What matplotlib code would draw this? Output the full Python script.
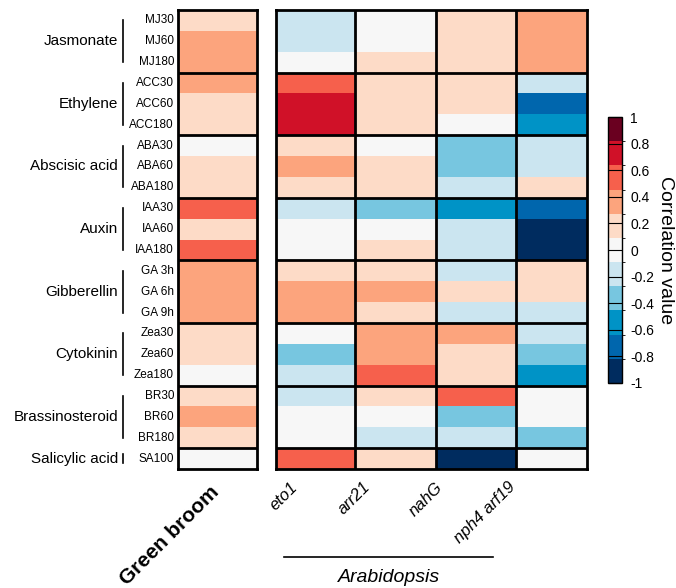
import matplotlib
matplotlib.use("Agg")
import matplotlib.pyplot as plt
import numpy as np
from matplotlib.colors import ListedColormap, BoundaryNorm
from matplotlib.transforms import blended_transform_factory

plt.rcParams["font.family"] = ["Liberation Sans", "DejaVu Sans"]

rows = ["MJ30", "MJ60", "MJ180", "ACC30", "ACC60", "ACC180",
        "ABA30", "ABA60", "ABA180", "IAA30", "IAA60", "IAA180",
        "GA 3h", "GA 6h", "GA 9h", "Zea30", "Zea60", "Zea180",
        "BR30", "BR60", "BR180", "SA100"]
groups = ["Jasmonate", "Ethylene", "Abscisic acid", "Auxin", "Gibberellin",
          "Cytokinin", "Brassinosteroid", "Salicylic acid"]
group_sizes = [3, 3, 3, 3, 3, 3, 3, 1]

green_broom = [0.2, 0.35, 0.35, 0.35, 0.2, 0.2, 0.0, 0.2, 0.2, 0.55, 0.2, 0.55,
               0.35, 0.35, 0.35, 0.2, 0.2, 0.0, 0.2, 0.35, 0.2, 0.0]
eto1 = [-0.2, -0.2, 0.0, 0.55, 0.7, 0.7, 0.2, 0.35, 0.2, -0.2, 0.0, 0.0,
        0.2, 0.35, 0.35, 0.0, -0.35, -0.2, -0.2, 0.0, 0.0, 0.55]
arr21 = [0.0, 0.0, 0.2, 0.2, 0.2, 0.2, 0.0, 0.2, 0.2, -0.35, 0.0, 0.2,
         0.2, 0.35, 0.2, 0.35, 0.35, 0.55, 0.2, 0.0, -0.2, 0.2]
nahG = [0.2, 0.2, 0.2, 0.2, 0.2, 0.0, -0.35, -0.35, -0.2, -0.55, -0.2, -0.2,
        -0.2, 0.2, -0.2, 0.35, 0.2, 0.2, 0.55, -0.35, -0.2, -0.9]
nph4_arf19 = [0.35, 0.35, 0.35, -0.2, -0.7, -0.55, -0.2, -0.2, 0.2, -0.7, -0.9, -0.9,
              0.2, 0.2, -0.2, -0.2, -0.35, -0.55, 0.0, 0.0, -0.35, 0.0]
arab_labels = ["eto1", "arr21", "nahG", "nph4 arf19"]
cbar_ticks = [-1, -0.8, -0.6, -0.4, -0.2, 0, 0.2, 0.4, 0.6, 0.8, 1]

palette = ["#002c5f", "#0066ad", "#0093c6", "#77c6e0", "#cbe5f0", "#f7f7f7",
           "#fddbc7", "#fca47d", "#f6604c", "#d01128", "#6a0020"]
cmap = ListedColormap(palette)
norm = BoundaryNorm(np.linspace(-1, 1, len(palette) + 1), cmap.N)

W, H = 676, 588
fig = plt.figure(figsize=(W / 100, H / 100), dpi=100)


def px(x0, y0, x1, y1):
    return [x0 / W, 1 - y1 / H, (x1 - x0) / W, (y1 - y0) / H]


ax1 = fig.add_axes(px(178, 10, 257, 469))
ax2 = fig.add_axes(px(276, 10, 587, 469))
cax = fig.add_axes(px(608, 117, 622, 383))

n = len(rows)
bounds = np.cumsum([0] + group_sizes)

gb = np.array(green_broom)[:, None]
arab = np.column_stack([eto1, arr21, nahG, nph4_arf19])

# column widths in screen pixels (the last Arabidopsis column is narrower)
col_edges = {ax1: np.array([0, 79]), ax2: np.cumsum([0, 79, 81, 80, 71])}

for ax, data in ((ax1, gb), (ax2, arab)):
    xe = col_edges[ax]
    m = ax.pcolormesh(xe, np.arange(n + 1), data, cmap=cmap, norm=norm)
    ax.set_ylim(n, 0)
    ax.set_xlim(xe[0], xe[-1])
    ax.set_xticks([])
    ax.set_yticks([])
    ax.hlines(bounds[1:-1], xe[0], xe[-1], color="black", lw=2)
    if len(xe) > 2:
        ax.vlines(xe[1:-1], 0, n, color="black", lw=2)
    for s in ax.spines.values():
        s.set_linewidth(2)

# left labels
tr = blended_transform_factory(fig.transFigure, ax1.transData)
for i, r in enumerate(rows):
    ax1.text(174 / W, i + 0.5, r, transform=tr, ha="right", va="center",
             fontsize=8.5)
for g, a, b in zip(groups, bounds[:-1], bounds[1:]):
    ax1.text(118 / W, (a + b) / 2, g, transform=tr, ha="right", va="center",
             fontsize=11)
    pad = 0.5 if b - a > 1 else 0.3
    ax1.plot([123 / W, 123 / W], [a + pad, b - pad], transform=tr,
             color="black", lw=1.2, clip_on=False)

# bottom labels
ax1.text(0.4, -0.03, "Green broom", transform=ax1.transAxes, rotation=45,
         rotation_mode="anchor", ha="right", va="top", fontsize=15,
         fontweight="bold")
for j, lab in enumerate(arab_labels):
    ax2.text(14 + 72.5 * j, n + 0.5, lab, rotation=45, rotation_mode="anchor",
             ha="right", va="top", fontsize=12, style="italic")
fig.add_artist(plt.Line2D([284 / W, 493 / W], [1 - 557 / H, 1 - 557 / H],
                          color="black", lw=1.2))
fig.text(389 / W, 1 - 577 / H, "Arabidopsis", ha="center", va="center",
         fontsize=14, style="italic")

# colorbar
cb = fig.colorbar(m, cax=cax, ticks=cbar_ticks)
cb.ax.set_yticklabels([f"{t:g}" for t in cbar_ticks])
cb.ax.tick_params(direction="in", length=10, width=0.8, labelsize=10, pad=6)
cb.outline.set_linewidth(1)
cb.set_label("Correlation value", rotation=270, fontsize=14, labelpad=14)

fig.savefig("out.png", dpi=100, facecolor="white")
